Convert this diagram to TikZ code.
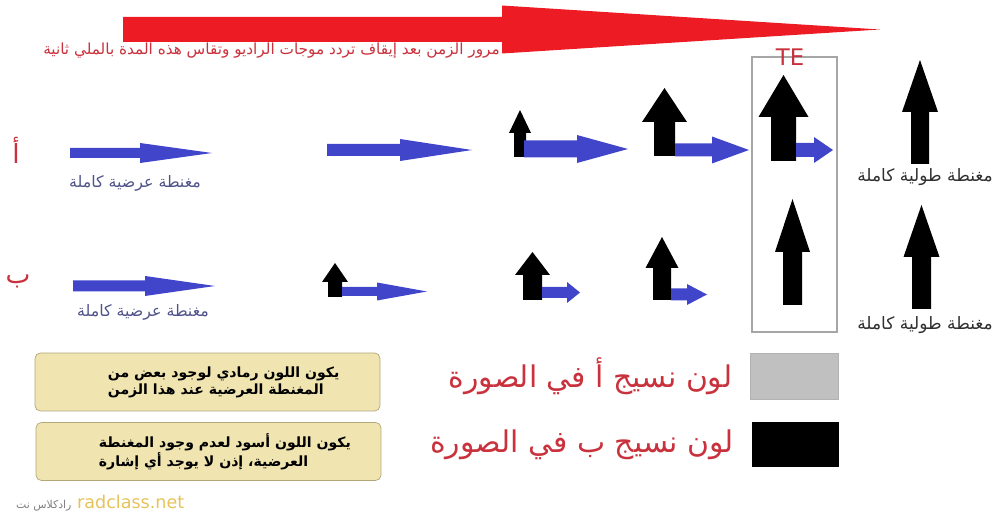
\documentclass[tikz,border=0pt]{standalone}
\usepackage{fontspec}
\setmainfont{DejaVu Sans}
\newfontfamily\arabicfont[Script=Arabic]{DejaVu Sans}
\TeXXeTstate=1
\usepackage{xcolor}
\usetikzlibrary{positioning}

\definecolor{arrowred}{HTML}{ED1C24}
\definecolor{textred}{HTML}{C9323C}
\definecolor{fieldblue}{HTML}{4145C9}
\definecolor{labelblue}{HTML}{50538A}
\definecolor{labelgray}{HTML}{303030}
\definecolor{notefill}{HTML}{F0E5B0}
\definecolor{notedraw}{HTML}{B3A67A}
\definecolor{tissuegray}{HTML}{C0C0C0}
\definecolor{webyellow}{HTML}{E6C35A}

% block arrows: x start, head base, tip, y centre, shaft half, head half
\newcommand{\harrow}[6]{(#1,#4-#5) -- (#2,#4-#5) -- (#2,#4-#6) -- (#3,#4) -- (#2,#4+#6) -- (#2,#4+#5) -- (#1,#4+#5) -- cycle}
% x centre, bottom, head base, tip, shaft half, head half
\newcommand{\varrow}[6]{(#1-#5,#2) -- (#1-#5,#3) -- (#1-#6,#3) -- (#1,#4) -- (#1+#6,#3) -- (#1+#5,#3) -- (#1+#5,#2) -- cycle}

\begin{document}
\begin{tikzpicture}[
    x=0.02cm, y=-0.02cm,
    ar/.style={font=\fontsize{#1}{#1}\selectfont\arabicfont},
    rowlabel/.style={ar=15,text=textred},
    fieldlabel/.style={ar=9,text=labelblue},
    longlabel/.style={ar=9.7,text=labelgray},
    note/.style={rectangle,draw=notedraw,fill=notefill,rounded corners=3pt,minimum width=6.9cm,minimum height=1.16cm},
    notetext/.style={anchor=west,align=left,font=\fontsize{8}{9.6}\selectfont\arabicfont\bfseries},
    swatch/.style={rectangle,minimum width=1.76cm,minimum height=0.92cm,inner sep=0pt},
    legendtext/.style={ar=17,text=textred},
    transfield/.style={fill=fieldblue},
    longfield/.style={fill=black}
]
    \useasboundingbox (0,0) rectangle (995,513);

    % Time arrow
    \fill[arrowred] \harrow{123}{502}{880}{29.5}{12.5}{24};
    \node[ar=8.7,text=textred,anchor=east] (timecap) at (506,51) {\beginR مرور الزمن بعد إيقاف تردد موجات الراديو وتقاس هذه المدة بالملي ثانية\endR};

    % Row labels
    \node[rowlabel] (rowa) at (16,150) {\beginR أ\endR};
    \node[rowlabel] (rowb) at (18,281) {\beginR ب\endR};

    % Tissue a
    \fill[transfield] \harrow{70}{140}{212}{153}{5}{10};
    \fill[transfield] \harrow{327}{400}{472}{150}{6}{11};
    \fill[longfield] \varrow{520}{157}{133}{110}{6}{11};
    \fill[transfield] \harrow{524}{577}{628}{149}{8.5}{14};
    \fill[longfield] \varrow{664.5}{156}{122}{88}{10.5}{22.5};
    \fill[transfield] \harrow{675}{712}{749}{150}{6.5}{13.5};
    \fill[longfield] \varrow{783.5}{161}{117}{75}{12.5}{25};
    \fill[transfield] \harrow{796}{814}{833}{150}{7}{13};
    \fill[longfield] \varrow{920}{164}{112}{60}{9}{18};

    % Tissue b
    \fill[transfield] \harrow{73}{145}{215}{286}{5.5}{10};
    \fill[longfield] \varrow{335}{297}{282}{263}{7}{13};
    \fill[transfield] \harrow{342}{377}{427}{291.5}{4.5}{9};
    \fill[longfield] \varrow{532.5}{300}{275}{252}{9.5}{17.5};
    \fill[transfield] \harrow{542}{567}{580}{292.5}{5.5}{10.5};
    \fill[longfield] \varrow{662}{300}{268}{237}{9}{16.5};
    \fill[transfield] \harrow{671}{687}{707}{294.5}{6}{10.5};
    \fill[longfield] \varrow{792.5}{305}{252}{199}{9.5}{17.5};
    \fill[longfield] \varrow{921.5}{309}{257}{205}{9.5}{18};

    % Field labels
    \node[fieldlabel] (transa) at (135,183) {\beginR مغنطة عرضية كاملة\endR};
    \node[fieldlabel] (transb) at (143,312) {\beginR مغنطة عرضية كاملة\endR};
    \node[longlabel] (longa) at (925,177) {\beginR مغنطة طولية كاملة\endR};
    \node[longlabel] (longb) at (925,325) {\beginR مغنطة طولية كاملة\endR};

    % TE window
    \draw[gray!70,line width=0.6pt] (752,57) rectangle (837,332);
    \node[text=textred,font=\fontsize{13}{13}\selectfont] (te) at (790,57) {TE};

    % Notes
    \node[note] (graynote) at (207.5,382) {};
    \node[notetext] (graytext) at ([xshift=1.34cm]graynote.west) {\beginR يكون اللون رمادي لوجود بعض من\endR\\\beginR المغنطة العرضية عند هذا الزمن\endR};
    \node[note] (blacknote) at (208.5,451.5) {};
    \node[notetext] (blacktext) at ([xshift=1.14cm]blacknote.west) {\beginR يكون اللون أسود لعدم وجود المغنطة\endR\\\beginR العرضية، إذن لا يوجد أي إشارة\endR};

    % Legend
    \node[swatch,fill=tissuegray,draw=gray!60] (swatcha) at (794,376.5) {};
    \node[swatch,fill=black,minimum height=0.9cm] (swatchb) at (795.5,444.5) {};
    \node[legendtext,left=0.22cm of swatcha] (legenda) {\beginR لون نسيج أ في الصورة\endR};
    \node[legendtext,left=0.22cm of swatchb] (legendb) {\beginR لون نسيج ب في الصورة\endR};

    % Site mark
    \node[anchor=west] (site) at (10,503) {{\color{gray}\fontsize{6.2}{6.2}\selectfont\arabicfont\beginR رادكلاس نت\endR} {\color{webyellow}\fontsize{10}{10}\selectfont radclass.net}};
\end{tikzpicture}
\end{document}
